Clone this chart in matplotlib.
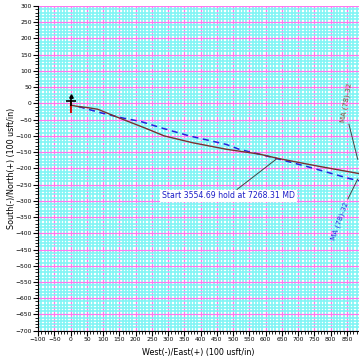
# Plan view (West/East vs South/North) for a well path with the plan overlaid
#

import matplotlib
matplotlib.use('Agg')
import matplotlib.pyplot as plt
from matplotlib.ticker import MultipleLocator

# actual survey path (usft)
actual_ew = [0, 20, 53, 84, 135, 186, 227, 288, 375, 478, 580, 641, 760, 887]
actual_ns = [-5, -9, -13, -18, -39, -59, -75, -100, -121, -141, -156, -170, -193, -216]

# plan (dashed)
plan_ew = [25, 94, 156, 217, 278, 365, 478, 518, 620, 733, 856, 887]
plan_ns = [-10, -29, -44, -56, -75, -100, -126, -141, -166, -196, -231, -238]

hold_text = 'Start 3554.69 hold at 7268.31 MD'
hold_point = (632, -172)
hold_label = (486, -285)

target_text = 'MA (78)-32'
actual_target_label = (847, 3)
actual_leader = ([856, 883], [-64, -172])
plan_target_label = (828, -362)
plan_leader = ([853, 883], [-294, -233])

x_range = (-100, 887)
y_range = (-700, 300)

fig = plt.figure(figsize=(3.59, 3.58), dpi=100)
ax = fig.add_axes([0.106, 0.0762, 0.894, 0.907])

ax.set_xlim(x_range)
ax.set_ylim(y_range)

ax.xaxis.set_major_locator(MultipleLocator(50))
ax.yaxis.set_major_locator(MultipleLocator(50))
ax.xaxis.set_minor_locator(MultipleLocator(10))
ax.yaxis.set_minor_locator(MultipleLocator(10))

ax.grid(which='minor', color='#7ff5f5', linewidth=1.2, zorder=0)
ax.grid(which='major', color='#ff77ee', linewidth=0.9, zorder=1)
ax.set_axisbelow(True)

ax.tick_params(which='major', direction='out', length=3.5, width=0.8,
               labelsize=4.3, pad=1)
ax.tick_params(which='minor', direction='out', length=2, width=0.6)

for side in ['top', 'right']:
    ax.spines[side].set_visible(False)
ax.spines['left'].set_linewidth(0.8)
ax.spines['bottom'].set_linewidth(0.8)

ax.set_xlabel('West(-)/East(+) (100 usft/in)', fontsize=5.8, labelpad=4.5)
ax.set_ylabel('South(-)/North(+) (100 usft/in)', fontsize=5.8)
ax.yaxis.set_label_coords(-0.07, 0.5)

# well symbol at surface
ax.plot([0, 0], [0, -25], color='#cc1111', lw=1.5, zorder=4)
ax.plot(0, 6, marker='+', color='black', markersize=7, mew=1.2, zorder=5)
ax.plot(0, 22, marker='^', color='black', markersize=2.5, zorder=5)

ax.plot(plan_ew, plan_ns, color='#2222dd', lw=1.1, dashes=(4, 3), zorder=3)
ax.plot(actual_ew, actual_ns, color='#7a3030', lw=1.0, zorder=3)

ax.annotate(hold_text, xy=hold_point, xytext=hold_label,
            fontsize=5.6, color='#1c1cc8', ha='center', va='center',
            bbox=dict(boxstyle='square,pad=0.25', fc='white', ec='none'),
            arrowprops=dict(arrowstyle='-', color='#444444', lw=0.7,
                            shrinkA=0, shrinkB=0),
            zorder=6)

# target labels and their leaders
ax.text(actual_target_label[0], actual_target_label[1], target_text,
        fontsize=5.2, color='#8a4a3a', ha='center', va='center',
        rotation=80, zorder=6)
ax.plot(actual_leader[0], actual_leader[1], color='#444444', lw=0.7,
        clip_on=False, zorder=6)

ax.text(plan_target_label[0], plan_target_label[1], target_text,
        fontsize=5.2, color='#2a2ae0', ha='center', va='center',
        rotation=70, zorder=6)
ax.plot(plan_leader[0], plan_leader[1], color='#444444', lw=0.7,
        clip_on=False, zorder=6)

fig.savefig('out.png', dpi=100)
